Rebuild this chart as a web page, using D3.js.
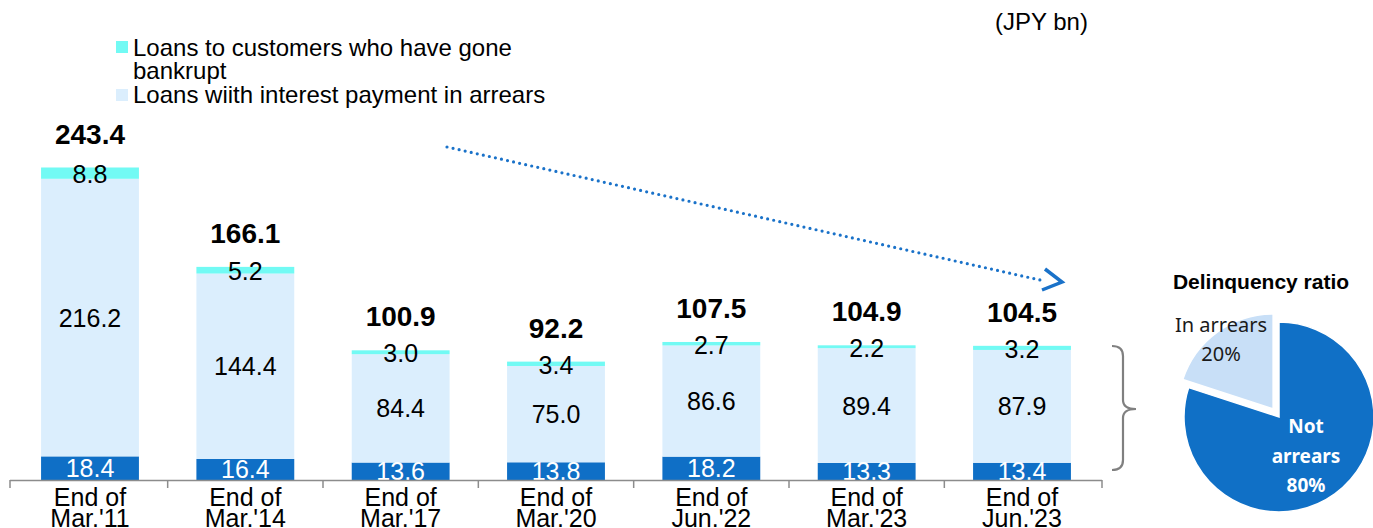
<!DOCTYPE html>
<html>
<head>
<meta charset="utf-8">
<script src="https://cdn.jsdelivr.net/npm/d3@7"></script>
<style>
  html, body { margin: 0; padding: 0; background: #fff; }
  svg { display: block; }
</style>
</head>
<body>
<svg id="chart" width="1373" height="528"></svg>
<script>
// Problem loans, JPY bn
const categories = ["End of\nMar.'11", "End of\nMar.'14", "End of\nMar.'17", "End of\nMar.'20", "End of\nJun.'22", "End of\nMar.'23", "End of\nJun.'23"];
const overdue    = [18.4, 16.4, 13.6, 13.8, 18.2, 13.3, 13.4];
const arrears    = [216.2, 144.4, 84.4, 75.0, 86.6, 89.4, 87.9];
const bankrupt   = [8.8, 5.2, 3.0, 3.4, 2.7, 2.2, 3.2];
const totals     = [243.4, 166.1, 100.9, 92.2, 107.5, 104.9, 104.5];

// Delinquency ratio (latest period)
const pieLabels = ["Not arrears", "In arrears"];
const pieValues = [80, 20];

const svg = d3.select("#chart");
const FONT = "'Liberation Sans', Arial, sans-serif";
const PIE_FONT = "'Noto Sans', 'Open Sans', sans-serif";

const colors = { overdue: "#0f6fc6", arrears: "#dbeefd", bankrupt: "#72faf4" };

const x = d3.scaleBand().domain(categories).range([10, 1102]).paddingInner(0.37).paddingOuter(0.2);
const y = d3.scaleLinear().domain([0, 243.4]).range([480, 167.5]);

const rows = categories.map((c, i) => ({ cat: c, overdue: overdue[i], arrears: arrears[i], bankrupt: bankrupt[i], total: totals[i] }));
const keys = ["overdue", "arrears", "bankrupt"];
const stacked = d3.stack().keys(keys)(rows);

// stacked bars
const layer = svg.append("g").selectAll("g").data(stacked).join("g")
  .attr("fill", d => colors[d.key]);
layer.selectAll("rect").data(d => d).join("rect")
  .attr("x", d => x(d.data.cat))
  .attr("width", x.bandwidth())
  .attr("y", d => y(d[1]))
  .attr("height", d => y(d[0]) - y(d[1]));

// segment labels
const labelColor = { overdue: "#ffffff", arrears: "#000000", bankrupt: "#000000" };
stacked.forEach(s => {
  svg.append("g").selectAll("text").data(s).join("text")
    .attr("x", d => x(d.data.cat) + x.bandwidth() / 2)
    .attr("y", d => (y(d[0]) + y(d[1])) / 2 + (s.key === "bankrupt" ? 1 : 0))
    .attr("text-anchor", "middle")
    .attr("dominant-baseline", "central")
    .attr("font-family", FONT)
    .attr("font-size", 25)
    .attr("fill", labelColor[s.key])
    .text(d => (d[1] - d[0]).toFixed(1));
});

// totals above bars
const topLayer = stacked[stacked.length - 1];
svg.append("g").selectAll("text").data(topLayer).join("text")
  .attr("x", d => x(d.data.cat) + x.bandwidth() / 2)
  .attr("y", d => y(d[1]) - 24)
  .attr("text-anchor", "middle")
  .attr("font-family", FONT)
  .attr("font-weight", "bold")
  .attr("font-size", 28)
  .attr("fill", "#000")
  .text(d => d.data.total.toFixed(1));

// category axis with boundary ticks
const axisG = svg.append("g");
axisG.append("line").attr("x1", 10).attr("x2", 1102).attr("y1", 480.5).attr("y2", 480.5)
  .attr("stroke", "#8c8c8c").attr("stroke-width", 1.5);
const bounds = categories.map(c => x(c) - x.step() * x.paddingInner() / 2).concat([1102]);
bounds[0] = 10;
axisG.selectAll("line.tick").data(bounds).join("line").attr("class", "tick")
  .attr("x1", d => d).attr("x2", d => d).attr("y1", 480).attr("y2", 488)
  .attr("stroke", "#8c8c8c").attr("stroke-width", 1.5);
const catText = axisG.selectAll("text").data(categories).join("text")
  .attr("x", d => x(d) + x.bandwidth() / 2)
  .attr("y", 506)
  .attr("text-anchor", "middle")
  .attr("font-family", FONT)
  .attr("font-size", 25)
  .attr("fill", "#000");
catText.each(function(d) {
  const lines = d.split("\n");
  d3.select(this).selectAll("tspan").data(lines).join("tspan")
    .attr("x", x(d) + x.bandwidth() / 2)
    .attr("dy", (l, i) => i === 0 ? 0 : 21)
    .text(l => l);
});

// legend
const legend = svg.append("g").attr("font-family", FONT).attr("font-size", 24).attr("fill", "#000");
legend.append("rect").attr("x", 116).attr("y", 41).attr("width", 12).attr("height", 12).attr("fill", colors.bankrupt);
legend.append("text").attr("x", 133).attr("y", 56).text("Loans to customers who have gone");
legend.append("text").attr("x", 133).attr("y", 79).text("bankrupt");
legend.append("rect").attr("x", 116).attr("y", 89).attr("width", 12).attr("height", 12).attr("fill", colors.arrears);
legend.append("text").attr("x", 133).attr("y", 103).text("Loans wiith interest payment in arrears");

// unit
svg.append("text").attr("x", 995).attr("y", 30).attr("font-family", FONT).attr("font-size", 24).text("(JPY bn)");

// downward trend arrow
const arrowColor = "#1a72c9";
svg.append("line").attr("x1", 447).attr("y1", 147).attr("x2", 1040).attr("y2", 280)
  .attr("stroke", arrowColor).attr("stroke-width", 3.2)
  .attr("stroke-linecap", "round").attr("stroke-dasharray", "0 6.2");
svg.append("path").attr("d", "M1045,269 L1062,282 L1042,290")
  .attr("fill", "none").attr("stroke", arrowColor).attr("stroke-width", 3.5)
  .attr("stroke-linejoin", "miter");

// brace linking latest bar to the pie
svg.append("path")
  .attr("d", "M1112,346 Q1123,346 1123,356 L1123,400 Q1123,409 1136,409 Q1123,409 1123,418 L1123,460 Q1123,470 1112,470")
  .attr("fill", "none").attr("stroke", "#808080").attr("stroke-width", 2.2);

// delinquency ratio pie
const cx = 1279, cy = 417, r = 95;
const pie = d3.pie().sort(null).value(d => d.v)(pieLabels.map((l, i) => ({ l, v: pieValues[i] })));
const arc = d3.arc().innerRadius(0).outerRadius(r);
const pieColors = ["#1070c6", "#c8dff7"];
const pg = svg.append("g").attr("transform", `translate(${cx},${cy})`);
pg.selectAll("path").data(pie).join("path")
  .attr("d", arc)
  .attr("fill", (d, i) => pieColors[i])
  .attr("stroke", "#fff").attr("stroke-width", 1.5)
  .attr("transform", (d, i) => {
    if (i === 0) return null;
    const mid = (d.startAngle + d.endAngle) / 2;
    return `translate(${Math.sin(mid) * 10},${-Math.cos(mid) * 10})`;
  });

svg.append("text").attr("x", 1261).attr("y", 289).attr("text-anchor", "middle")
  .attr("font-family", FONT).attr("font-weight", "bold").attr("font-size", 21).text("Delinquency ratio");

const inArr = svg.append("text").attr("text-anchor", "middle").attr("font-family", PIE_FONT)
  .attr("font-size", 20).attr("fill", "#1a1a1a");
inArr.append("tspan").attr("x", 1221).attr("y", 332).text("In arrears");
inArr.append("tspan").attr("x", 1221).attr("y", 361).text(pieValues[1] + "%");

const notArr = svg.append("text").attr("text-anchor", "middle").attr("font-family", PIE_FONT)
  .attr("font-size", 19).attr("font-weight", "bold").attr("fill", "#fff");
notArr.append("tspan").attr("x", 1306).attr("y", 433).text("Not");
notArr.append("tspan").attr("x", 1306).attr("y", 463).text("arrears");
notArr.append("tspan").attr("x", 1306).attr("y", 492).text(pieValues[0] + "%");
</script>
</body>
</html>
